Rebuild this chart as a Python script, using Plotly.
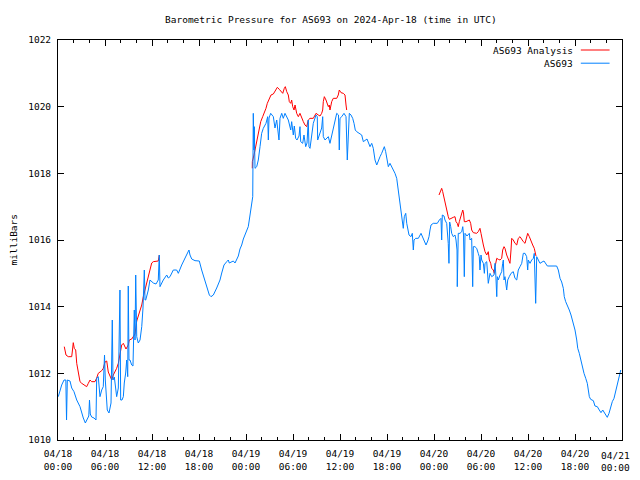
import pandas as pd
import plotly.graph_objects as go

# ---- data (hours after 2024-04-18 00:00 UTC, pressure in mb) ----
blue_hours = [0.04, 0.47, 0.77, 1.00, 1.09, 1.19, 1.53, 1.75, 2.04, 2.39, 2.81, 3.03, 3.23, 3.49, 3.74, 3.93, 4.02, 4.12, 4.30, 4.60,
              4.85, 4.94, 5.14, 5.27, 5.36, 5.58, 5.78, 5.94, 6.04, 6.29, 6.51, 6.77, 6.93, 7.02, 7.19, 7.49, 7.70, 7.91, 8.00, 8.17,
              8.34, 8.46, 8.64, 8.77, 8.90, 8.97, 9.06, 9.19, 9.41, 9.57, 9.74, 9.83, 9.92, 10.05, 10.25, 10.47, 10.69, 10.85, 11.02, 11.11,
              11.20, 11.53, 11.74, 12.17, 12.51, 12.80, 12.93, 13.02, 13.24, 13.44, 13.88, 14.08, 14.30, 14.72, 15.15, 15.36, 15.79, 16.21, 16.51, 16.72,
              16.85, 17.07, 17.49, 18.04, 18.34, 18.55, 18.77, 18.98, 19.32, 19.53, 19.83, 20.26, 20.68, 20.90, 21.19, 21.54, 21.74, 21.87, 22.17, 22.38,
              22.60, 22.81, 23.02, 23.23, 23.45, 23.66, 23.87, 24.17, 24.29, 24.42, 24.51, 24.64, 24.73, 24.86, 24.93, 25.02, 25.06, 25.15, 25.37, 25.57,
              25.79, 26.00, 26.21, 26.55, 26.77, 26.85, 26.94, 27.15, 27.49, 27.70, 27.92, 28.21, 28.34, 28.56, 28.76, 28.98, 29.40, 29.71, 29.83, 29.96,
              30.04, 30.17, 30.34, 30.51, 30.77, 30.89, 30.98, 31.24, 31.40, 31.62, 31.79, 31.95, 32.04, 32.17, 32.39, 32.59, 32.94, 33.10, 33.15, 33.45,
              33.66, 33.79, 33.87, 34.09, 34.51, 34.72, 35.07, 35.23, 35.58, 35.81, 35.91, 36.00, 36.22, 36.51, 36.77, 36.93, 37.06, 37.19, 37.40, 37.62,
              37.79, 37.95, 38.13, 38.55, 38.77, 38.98, 39.19, 39.45, 39.83, 40.05, 40.25, 40.47, 40.69, 40.89, 41.11, 41.32, 41.66, 41.83, 42.04, 42.17,
              42.38, 42.60, 42.80, 43.02, 43.24, 43.37, 43.53, 43.66, 43.79, 43.95, 44.08, 44.21, 44.39, 44.52, 44.64, 44.81, 45.06, 45.23, 45.36, 45.45,
              45.66, 46.00, 46.34, 46.76, 46.98, 47.20, 47.36, 47.49, 47.62, 47.91, 48.42, 48.68, 48.89, 48.98, 49.06, 49.28, 49.40, 49.62, 49.82, 49.91,
              50.00, 50.13, 50.26, 50.46, 50.68, 50.81, 50.94, 50.97, 51.10, 51.32, 51.54, 51.67, 51.77, 51.87, 51.96, 52.21, 52.51, 52.60, 52.81, 52.94,
              53.02, 53.23, 53.45, 53.65, 53.78, 53.87, 54.00, 54.09, 54.30, 54.43, 54.51, 54.73, 54.86, 54.93, 55.15, 55.37, 55.66, 55.79, 55.88, 56.01,
              56.08, 56.21, 56.43, 56.64, 56.77, 56.85, 56.94, 57.06, 57.28, 57.41, 57.61, 57.83, 58.12, 58.25, 58.34, 58.56, 58.76, 58.98, 59.20, 59.40,
              59.62, 59.83, 59.96, 60.04, 60.26, 60.47, 60.68, 60.80, 60.89, 60.98, 61.11, 61.32, 61.53, 61.79, 62.04, 62.30, 62.47, 63.66, 63.87, 64.09,
              64.30, 64.51, 64.63, 64.81, 65.02, 65.27, 65.49, 65.66, 65.87, 66.00, 66.22, 66.35, 66.55, 66.73, 66.93, 67.15, 67.37, 67.57, 67.70, 67.83,
              68.00, 68.34, 68.55, 68.85, 69.10, 69.32, 69.54, 69.74, 69.96, 70.12, 70.34, 70.56, 70.76, 70.98, 71.20, 71.40, 71.62, 71.84]
blue_values = [1011.30, 1011.65, 1011.80, 1011.80, 1010.60, 1011.80, 1011.77, 1011.56, 1011.45, 1011.20, 1011.00, 1010.81, 1010.66, 1010.51, 1010.66, 1010.72, 1011.20, 1010.78, 1010.69, 1010.66,
               1010.60, 1011.86, 1011.90, 1011.65, 1011.30, 1011.50, 1011.60, 1012.55, 1011.80, 1010.90, 1010.81, 1011.11, 1013.60, 1011.80, 1011.89, 1011.30, 1011.56, 1014.50, 1011.20, 1011.20,
               1011.30, 1011.71, 1012.01, 1012.40, 1011.90, 1014.62, 1012.40, 1012.40, 1012.25, 1012.22, 1013.90, 1013.00, 1014.95, 1013.10, 1012.91, 1013.00, 1013.40, 1013.96, 1015.10, 1014.20,
               1014.20, 1014.50, 1014.80, 1014.71, 1014.68, 1014.80, 1015.55, 1014.60, 1014.71, 1014.80, 1014.95, 1014.86, 1014.90, 1015.10, 1015.10, 1015.00, 1015.25, 1015.46, 1015.60, 1015.70,
               1015.55, 1015.43, 1015.38, 1015.37, 1015.10, 1014.95, 1014.80, 1014.60, 1014.35, 1014.30, 1014.35, 1014.56, 1014.80, 1015.01, 1015.25, 1015.35, 1015.40, 1015.31, 1015.35, 1015.37,
               1015.31, 1015.40, 1015.52, 1015.73, 1015.85, 1016.03, 1016.15, 1016.30, 1016.40, 1016.60, 1016.75, 1016.90, 1017.20, 1017.30, 1019.80, 1018.70, 1019.40, 1018.15, 1018.20, 1018.40,
               1018.80, 1019.20, 1019.35, 1019.50, 1019.70, 1019.00, 1019.66, 1019.80, 1019.70, 1019.36, 1019.60, 1019.00, 1019.65, 1019.80, 1019.65, 1019.80, 1019.60, 1019.30, 1019.55, 1019.20,
               1019.15, 1019.42, 1019.05, 1019.00, 1019.12, 1019.40, 1018.95, 1018.90, 1019.15, 1018.80, 1018.91, 1019.60, 1018.80, 1018.75, 1019.10, 1019.50, 1019.75, 1019.70, 1019.00, 1019.20,
               1019.36, 1019.70, 1019.10, 1019.00, 1019.10, 1018.90, 1019.30, 1019.50, 1019.80, 1019.75, 1018.70, 1019.65, 1019.70, 1019.80, 1019.70, 1018.40, 1019.50, 1019.80, 1019.75, 1019.65,
               1019.50, 1019.30, 1019.25, 1019.20, 1019.15, 1018.95, 1019.00, 1019.03, 1018.80, 1018.90, 1018.75, 1018.40, 1018.25, 1018.40, 1018.50, 1018.60, 1018.80, 1018.65, 1018.35, 1018.20,
               1018.30, 1018.20, 1018.10, 1018.00, 1017.85, 1017.60, 1017.30, 1017.10, 1016.80, 1016.50, 1016.35, 1016.70, 1016.80, 1016.50, 1016.30, 1016.15, 1016.10, 1016.20, 1015.70, 1016.00,
               1016.05, 1016.05, 1016.20, 1015.95, 1015.85, 1015.97, 1016.10, 1016.30, 1016.45, 1016.50, 1016.50, 1016.60, 1016.65, 1016.00, 1016.75, 1016.72, 1016.60, 1016.50, 1015.90, 1015.30,
               1016.54, 1016.40, 1016.20, 1016.10, 1016.15, 1016.00, 1015.70, 1014.60, 1016.20, 1016.20, 1016.25, 1016.40, 1016.15, 1014.90, 1016.20, 1016.12, 1016.20, 1016.00, 1016.05, 1014.60,
               1015.80, 1015.80, 1015.75, 1015.60, 1015.50, 1015.10, 1015.55, 1015.40, 1015.30, 1015.00, 1015.30, 1015.35, 1014.80, 1014.70, 1015.00, 1014.90, 1014.95, 1015.30, 1015.01, 1014.30,
               1014.90, 1014.80, 1014.95, 1015.05, 1015.30, 1015.40, 1014.80, 1014.90, 1014.50, 1014.80, 1014.90, 1015.00, 1015.05, 1014.95, 1014.85, 1014.80, 1015.10, 1015.20, 1015.30, 1015.60,
               1015.60, 1015.50, 1015.10, 1015.40, 1015.30, 1015.40, 1015.45, 1015.60, 1014.90, 1014.10, 1015.50, 1015.40, 1015.30, 1015.34, 1015.37, 1015.28, 1015.22, 1015.22, 1015.10, 1014.85,
               1014.74, 1014.55, 1014.30, 1014.15, 1014.05, 1013.90, 1013.75, 1013.60, 1013.45, 1013.30, 1013.00, 1012.75, 1012.60, 1012.40, 1012.20, 1012.00, 1011.85, 1011.70, 1011.50, 1011.30,
               1011.22, 1011.18, 1011.02, 1011.00, 1010.90, 1010.82, 1010.90, 1010.82, 1010.75, 1010.68, 1010.80, 1011.02, 1011.15, 1011.25, 1011.45, 1011.70, 1011.85, 1012.10]

# Analysis series: three separate runs, None marks the gaps
red_hours = [0.80, 1.02, 1.31, 1.75, 1.85, 1.95, 2.08, 2.26, 2.39, 2.59, 2.81, 3.03, 3.45, 3.66, 3.87, 4.09, 4.30, 4.72, 4.94, 5.14,
             5.58, 5.78, 6.00, 6.22, 6.42, 6.64, 6.86, 7.06, 7.49, 7.70, 7.91, 8.13, 8.34, 8.68, 8.97, 9.10, 9.41, 9.61, 9.83, 10.05,
             10.25, 10.47, 10.69, 10.89, 11.11, 11.32, 11.53, 11.74, 11.96, 12.17, 12.60, 12.80, 12.93,
             18.0,
             24.80, 24.81, 25.02, 25.28, 25.44, 25.66, 25.88, 26.13, 26.34, 26.55, 26.72, 26.97, 27.19, 27.49, 27.70, 28.00, 28.25, 28.47, 28.69, 28.89,
             29.02, 29.20, 29.40, 29.53, 29.71, 29.83, 29.96, 30.13, 30.26, 30.47, 30.68, 30.89, 31.11, 31.32, 31.53, 31.75, 31.95, 32.17, 32.59, 32.94,
             33.23, 33.45, 33.66, 33.79, 33.87, 34.00, 34.21, 34.38, 34.51, 34.63, 34.72, 34.94, 35.14, 35.58, 35.78, 35.91, 36.13, 36.42, 36.64, 36.77, 36.85,
             42.0,
             48.64, 48.77, 48.98, 49.11, 49.28, 49.40, 49.53, 49.70, 49.82, 49.95, 50.13, 50.46, 50.68, 50.81, 50.97, 51.10, 51.23, 51.41, 51.54, 51.67,
             51.77, 51.87, 52.09, 52.51, 52.68, 52.81, 53.02, 53.45, 53.65, 53.87, 54.00, 54.17, 54.30, 54.51, 54.73, 54.93, 55.06, 55.24, 55.37, 55.57,
             55.70, 55.79, 56.01, 56.21, 56.43, 56.64, 56.77, 56.94, 57.06, 57.28, 57.49, 57.70, 57.83, 57.92, 58.12, 58.34, 58.56, 58.76, 58.98, 59.20,
             59.40, 59.62, 59.83, 59.96, 60.17, 60.38, 60.60, 60.80, 60.93, 61.02]
red_values = [1012.80, 1012.55, 1012.50, 1012.50, 1012.70, 1012.92, 1012.75, 1012.70, 1012.30, 1012.00, 1011.75, 1011.70, 1011.65, 1011.60, 1011.70, 1011.80, 1011.75, 1011.75, 1011.86, 1012.00,
              1012.08, 1012.15, 1012.34, 1012.37, 1012.04, 1011.89, 1011.80, 1011.95, 1012.15, 1012.30, 1012.55, 1012.85, 1012.90, 1012.73, 1012.85, 1013.00, 1013.03, 1013.10, 1013.18, 1013.57,
              1013.70, 1013.90, 1014.05, 1014.30, 1014.50, 1014.70, 1014.89, 1015.13, 1015.31, 1015.35, 1015.35, 1015.37, 1015.55,
              None,
              1018.15, 1018.35, 1018.55, 1018.85, 1019.05, 1019.25, 1019.55, 1019.70, 1019.80, 1019.95, 1020.10, 1020.25, 1020.35, 1020.38, 1020.45, 1020.58, 1020.52, 1020.45, 1020.40, 1020.55,
              1020.60, 1020.45, 1020.35, 1020.15, 1020.10, 1020.20, 1020.00, 1019.90, 1020.05, 1019.80, 1019.70, 1019.80, 1019.65, 1019.55, 1019.45, 1019.40, 1019.60, 1019.65, 1019.65, 1019.80,
              1019.75, 1019.72, 1019.80, 1019.90, 1020.15, 1020.30, 1020.20, 1020.10, 1020.00, 1020.05, 1019.90, 1020.15, 1020.25, 1020.25, 1020.35, 1020.50, 1020.42, 1020.40, 1020.35, 1020.05, 1019.90,
              None,
              1017.35, 1017.45, 1017.55, 1017.45, 1017.25, 1017.10, 1016.95, 1016.80, 1016.70, 1016.62, 1016.65, 1016.68, 1016.70, 1016.55, 1016.50, 1016.40, 1016.55, 1016.70, 1016.80, 1016.90,
              1016.81, 1016.55, 1016.55, 1016.60, 1016.50, 1016.30, 1016.22, 1016.20, 1016.25, 1016.35, 1016.20, 1015.95, 1015.85, 1015.65, 1015.55, 1015.65, 1015.40, 1015.30, 1015.15, 1015.10,
              1015.00, 1015.20, 1015.45, 1015.42, 1015.40, 1015.45, 1015.70, 1015.80, 1015.75, 1015.55, 1015.40, 1015.30, 1015.70, 1016.05, 1016.00, 1015.90, 1015.85, 1016.05, 1016.10, 1016.00,
              1015.95, 1015.90, 1016.10, 1016.20, 1016.10, 1016.00, 1015.85, 1015.75, 1015.65, 1015.52]

tick_hours = [0, 6, 12, 18, 24, 30, 36, 42, 48, 54, 60, 66, 72]
tick_labels = ["04/18<br>00:00", "04/18<br>06:00", "04/18<br>12:00", "04/18<br>18:00",
               "04/19<br>00:00", "04/19<br>06:00", "04/19<br>12:00", "04/19<br>18:00",
               "04/20<br>00:00", "04/20<br>06:00", "04/20<br>12:00", "04/20<br>18:00",
               "04/21<br>00:00"]
y_ticks = [1010, 1012, 1014, 1016, 1018, 1020, 1022]

title_text = "Barometric Pressure for AS693 on 2024-Apr-18 (time in UTC)"
y_title = "milliBars"
series_names = ["AS693 Analysis", "AS693"]
series_colors = ["#ff0000", "#0080ff"]

base = pd.Timestamp("2024-04-18 00:00")
def to_time(hours):
    return [base + pd.Timedelta(hours=h) for h in hours]

FONT = "DejaVu Sans Mono"
FS = 9.5

fig = go.Figure()
fig.add_trace(go.Scatter(x=to_time(red_hours), y=red_values, mode="lines", name=series_names[0],
                         line=dict(color=series_colors[0], width=1), connectgaps=False))
fig.add_trace(go.Scatter(x=to_time(blue_hours), y=blue_values, mode="lines", name=series_names[1],
                         line=dict(color=series_colors[1], width=1)))

# the page body adds an 8px offset, so margins are reduced by 8 on the left/top
fig.update_layout(
    width=640, height=480,
    margin=dict(l=50, r=26, t=32, b=48),
    paper_bgcolor="white", plot_bgcolor="white",
    showlegend=False,
    font=dict(family=FONT, size=FS, color="black"),
)
# the last label sits at the window's right edge; it is drawn right-aligned below
fig.update_xaxes(
    range=[base, base + pd.Timedelta(hours=72)],
    tickvals=to_time(tick_hours), ticktext=tick_labels[:-1] + [""],
    ticks="inside", ticklen=6, tickcolor="black", tickwidth=1,
    showline=True, linecolor="black", linewidth=1, mirror="allticks",
    showgrid=False, zeroline=False, automargin=False, ticklabelstandoff=5,
    minor=dict(ticks="inside", ticklen=3, tickcolor="black",
               tickvals=to_time(list(range(2, 72, 2)))),
    tickfont=dict(family=FONT, size=FS),
)
fig.update_yaxes(
    range=[1010, 1022], tickvals=y_ticks, ticktext=[str(v) for v in y_ticks],
    ticks="inside", ticklen=6, tickcolor="black", tickwidth=1,
    showline=True, linecolor="black", linewidth=1, mirror="allticks",
    showgrid=False, zeroline=False, automargin=False, ticklabelstandoff=4,
    tickfont=dict(family=FONT, size=FS),
)
fig.add_annotation(text=tick_labels[-1], xref="x", yref="paper", x=to_time([tick_hours[-1]])[0], y=0,
                   xanchor="right", yanchor="top", xshift=9, yshift=-9, showarrow=False,
                   font=dict(family=FONT, size=FS), borderpad=0)

# title and y-axis label
fig.add_annotation(text=title_text, xref="paper", yref="paper", x=0.484, y=1.05,
                   showarrow=False, font=dict(family=FONT, size=FS), xanchor="center", yanchor="middle")
fig.add_annotation(text=y_title, xref="paper", yref="paper", x=-0.079, y=0.5, textangle=-90,
                   showarrow=False, font=dict(family=FONT, size=FS), xanchor="center", yanchor="middle")

# gnuplot-style key (text left of sample line)
key_y = [0.975, 0.942]
for name, color, ky in zip(series_names, series_colors, key_y):
    fig.add_annotation(text=name, xref="paper", yref="paper", x=0.916, y=ky, showarrow=False,
                       xanchor="right", yanchor="middle", font=dict(family=FONT, size=FS))
    fig.add_shape(type="line", xref="paper", yref="paper", x0=0.927, x1=0.978, y0=ky, y1=ky,
                  line=dict(color=color, width=1))

fig.write_html("out.html")
